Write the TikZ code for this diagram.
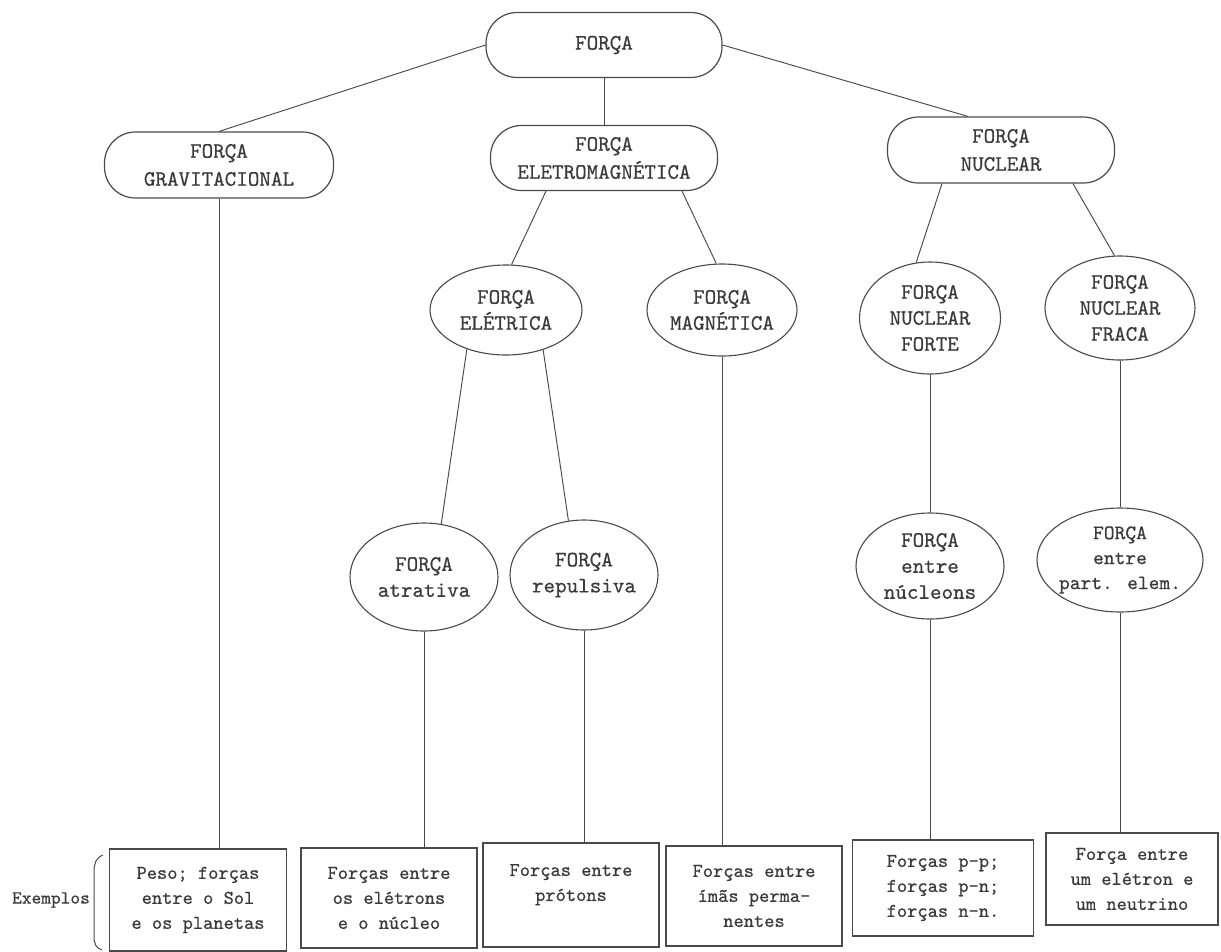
\documentclass[tikz,border=0pt]{standalone}
\usepackage{fontspec}
\newfontfamily\typewr{lmmono10-regular.otf}[FakeBold=0.5]
\usetikzlibrary{shapes.geometric}
\definecolor{ink}{HTML}{3A3A3A}
\definecolor{edge}{HTML}{4A4A4A}

\begin{document}
\begin{tikzpicture}[x=1pt,y=-1pt,
  font=\typewr\fontsize{22}{28}\selectfont,
  every node/.style={text=ink, align=center},
  pill/.style={rectangle, rounded corners=31pt, draw=edge, line width=1.2pt, inner sep=0pt},
  oval/.style={ellipse, draw=edge, line width=1.1pt, inner xsep=-12pt, inner ysep=-4pt,
               font=\typewr\fontsize{22}{26}\selectfont},
  exbox/.style={rectangle, draw=edge, line width=1.2pt, inner sep=0pt,
                font=\typewr\fontsize{19.5}{25}\selectfont},
  link/.style={draw=edge, line width=0.95pt}]

\fill[white] (0,0) rectangle (1221,951);
\useasboundingbox (0,0) rectangle (1221,951);

% top level
\node[pill, minimum width=236pt, minimum height=65pt] (forca) at (604,45) {FORÇA};

% second level
\node[pill, minimum width=229pt, minimum height=66pt] (grav) at (219,165) {FORÇA\\GRAVITACIONAL};
\node[pill, minimum width=227pt, minimum height=65pt] (em)   at (604,158) {FORÇA\\ELETROMAGNÉTICA};
\node[pill, minimum width=227pt, minimum height=66pt] (nuc)  at (1001,150) {FORÇA\\NUCLEAR};

% third level
\node[oval, minimum width=152pt, minimum height=90pt]  (eletr) at (506,310) {FORÇA\\ELÉTRICA};
\node[oval, minimum width=150pt, minimum height=92pt]  (magn)  at (722,310) {FORÇA\\MAGNÉTICA};
\node[oval, minimum width=141pt, minimum height=112pt] (forte) at (930,318) {FORÇA\\NUCLEAR\\FORTE};
\node[oval, minimum width=150pt, minimum height=104pt] (fraca) at (1120,308) {FORÇA\\NUCLEAR\\FRACA};

% fourth level
\node[oval, minimum width=148pt, minimum height=108pt] (atra) at (424,577) {FORÇA\\atrativa};
\node[oval, minimum width=148pt, minimum height=110pt] (repu) at (584,575) {FORÇA\\repulsiva};
\node[oval, minimum width=148pt, minimum height=106pt] (nucl) at (930,566) {FORÇA\\entre\\núcleons};
\node[oval, minimum width=166pt, minimum height=104pt, font=\typewr\fontsize{20.5}{25}\selectfont]
  (part) at (1120,560) {FORÇA\\entre\\part. elem.};

% examples
\node[exbox, minimum width=177pt, minimum height=102pt] (b1) at (198,900)  {Peso; forças\\entre o Sol\\e os planetas};
\node[exbox, minimum width=176pt, minimum height=100pt] (b2) at (389,898)  {Forças entre\\os elétrons\\e o núcleo};
\node[exbox, minimum width=176pt, minimum height=104pt] (b3) at (571,895)  {Forças entre\\prótons\\\phantom{x}};
\node[exbox, minimum width=176pt, minimum height=100pt] (b4) at (754,896)  {Forças entre\\ímãs perma-\\nentes};
\node[exbox, minimum width=181pt, minimum height=96pt]  (b5) at (943,888)  {Forças p-p;\\forças p-n;\\forças n-n.};
\node[exbox, minimum width=172pt, minimum height=92pt]  (b6) at (1132,879) {Força entre\\um elétron e\\um neutrino};

\node[font=\typewr\fontsize{18.5}{22}\selectfont] (exlabel) at (51,900) {Exemplos};
\draw[edge, line width=1pt] (103,855) .. controls (96,858) and (94,863) .. (94,872)
  -- (94,936) .. controls (94,944) and (96,948) .. (102,950);

% connectors
\draw[link] (forca.west) -- (grav.north);
\draw[link] (forca.south) -- (em.north);
\draw[link] (forca.east) -- ([xshift=-33pt]nuc.north);
\draw[link] ([xshift=-58pt]em.south) -- (eletr.83);
\draw[link] ([xshift=78pt]em.south) -- (magn.97);
\draw[link] ([xshift=-59pt]nuc.south) -- (forte.104);
\draw[link] ([xshift=72pt]nuc.south) -- (fraca.96);
\draw[link] (eletr.225) -- (atra.72);
\draw[link] (eletr.313) -- (repu.106);
\draw[link] (grav.south) -- (grav.south |- b1.north);
\draw[link] (magn.south) -- (magn.south |- b4.north);
\draw[link] (forte.south) -- (nucl.north);
\draw[link] (fraca.south) -- (part.north);
\draw[link] (atra.south) -- (atra.south |- b2.north);
\draw[link] (repu.south) -- (repu.south |- b3.north);
\draw[link] (nucl.south) -- (nucl.south |- b5.north);
\draw[link] (part.south) -- (part.south |- b6.north);
\end{tikzpicture}
\end{document}
